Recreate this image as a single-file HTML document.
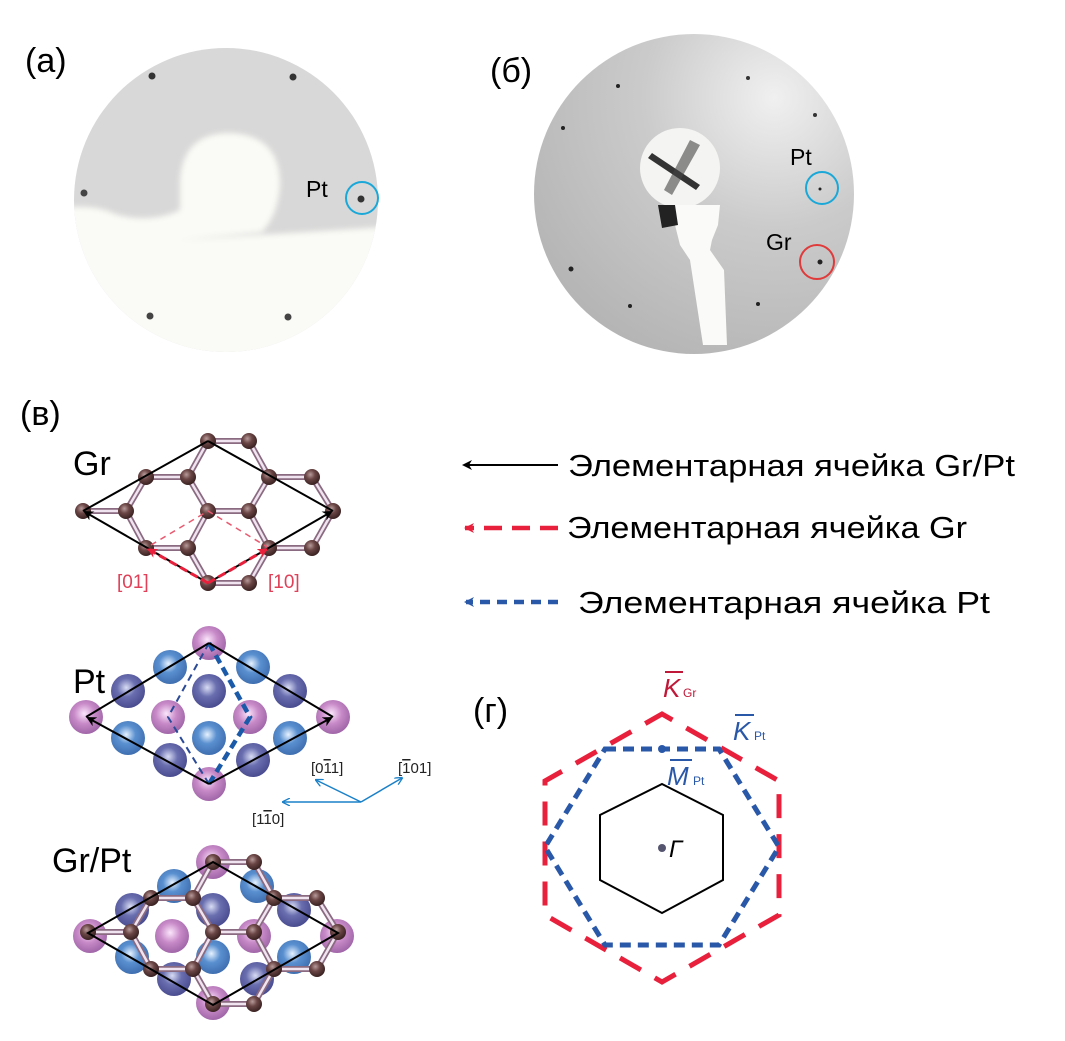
<!DOCTYPE html>
<html><head><meta charset="utf-8">
<style>
html,body{margin:0;padding:0;background:#fff;}
svg{display:block;font-family:"Liberation Sans",sans-serif;}
</style></head>
<body>
<svg id="s" width="1065" height="1041" viewBox="0 0 1065 1041" xmlns="http://www.w3.org/2000/svg">
<defs>
<radialGradient id="gC" cx="40%" cy="35%" r="65%"><stop offset="0" stop-color="#b89a9a"/><stop offset="0.45" stop-color="#6b4646"/><stop offset="1" stop-color="#3a2222"/></radialGradient>
<radialGradient id="gP" cx="45%" cy="40%" r="60%"><stop offset="0" stop-color="#fbe6fb"/><stop offset="0.5" stop-color="#c88ac8"/><stop offset="1" stop-color="#a066a8"/></radialGradient>
<radialGradient id="gB" cx="45%" cy="40%" r="60%"><stop offset="0" stop-color="#e6f2ff"/><stop offset="0.45" stop-color="#5a90d0"/><stop offset="1" stop-color="#3f6fb0"/></radialGradient>
<radialGradient id="gD" cx="45%" cy="40%" r="60%"><stop offset="0" stop-color="#d8dcf4"/><stop offset="0.45" stop-color="#6a6fb0"/><stop offset="1" stop-color="#4a4c90"/></radialGradient>
<radialGradient id="gBk" cx="75%" cy="20%" r="90%"><stop offset="0" stop-color="#f0f0f0"/><stop offset="0.45" stop-color="#cbcbcb"/><stop offset="1" stop-color="#b4b4b4"/></radialGradient>
<clipPath id="ca"><circle cx="226" cy="200" r="152"/></clipPath>
<filter id="bl"><feGaussianBlur stdDeviation="3"/></filter>
<marker id="ak" markerWidth="10" markerHeight="10" refX="8" refY="5" orient="auto" markerUnits="userSpaceOnUse"><path d="M0,0 L10,5 L0,10 L3,5z" fill="#000"/></marker>
<marker id="ar" markerWidth="12" markerHeight="10" refX="9" refY="5" orient="auto" markerUnits="userSpaceOnUse"><path d="M0,0 L10,5 L0,10 L3,5z" fill="#e8203c"/></marker>
<marker id="ab" markerWidth="10" markerHeight="10" refX="8" refY="5" orient="auto" markerUnits="userSpaceOnUse"><path d="M0,0 L10,5 L0,10 L3,5z" fill="#2a58a8"/></marker>
<marker id="al" markerWidth="8" markerHeight="8" refX="7" refY="4" orient="auto" markerUnits="userSpaceOnUse"><path d="M0,0 L8,4 L0,8" fill="none" stroke="#1a80c8" stroke-width="1.3"/></marker>
</defs>

<!-- (a) -->
<text x="25" y="72" font-size="34">(a)</text>
<g clip-path="url(#ca)">
<rect x="60" y="30" width="340" height="340" fill="#d8d8d8"/>
<g filter="url(#bl)" fill="#fafaf6">
<path d="M50,210 Q90,202 115,214 Q150,224 180,210 L180,240 L400,226 L400,380 L50,380 Z"/>
<path d="M180,240 L180,180 Q183,133 230,133 Q280,135 280,185 Q278,215 262,232 Z"/>
</g>
</g>
<circle cx="152" cy="76" r="3.5" fill="#333"/><circle cx="293" cy="77" r="3.5" fill="#333"/>
<circle cx="84" cy="193" r="3.5" fill="#444"/><circle cx="361" cy="199" r="3.5" fill="#333"/>
<circle cx="150" cy="316" r="3.5" fill="#444"/><circle cx="288" cy="317" r="3.5" fill="#444"/>
<text x="306" y="197" font-size="23">Pt</text>
<circle cx="362" cy="198" r="16" fill="none" stroke="#1aa8d8" stroke-width="2"/>

<!-- (б) -->
<text x="490" y="82" font-size="34">(б)</text>
<circle cx="694" cy="194" r="160" fill="url(#gBk)"/>
<circle cx="680" cy="168" r="40" fill="#f4f4f2"/>
<path d="M652,153 L700,185 L696,190 L648,158z" fill="#333"/>
<path d="M690,140 L700,145 L672,195 L664,190z" fill="#444" opacity="0.6"/>
<path d="M665,205 L720,205 L718,225 L712,240 L710,250 L724,270 L727,345 L703,345 L690,260 L680,245 L675,225z" fill="#fafaf8"/>
<path d="M658,205 L675,205 L678,225 L662,228z" fill="#222"/>
<circle cx="618" cy="86" r="2" fill="#222"/><circle cx="748" cy="78" r="2" fill="#333"/>
<circle cx="563" cy="128" r="2" fill="#222"/><circle cx="815" cy="115" r="2" fill="#333"/>
<circle cx="571" cy="269" r="2.5" fill="#222"/><circle cx="630" cy="306" r="2" fill="#222"/>
<circle cx="758" cy="304" r="2" fill="#222"/><circle cx="820" cy="262" r="2.5" fill="#222"/>
<circle cx="820" cy="189" r="1.5" fill="#222"/>
<text x="790" y="165" font-size="23">Pt</text>
<circle cx="822" cy="188" r="16" fill="none" stroke="#1aa8d8" stroke-width="2"/>
<text x="766" y="250" font-size="23">Gr</text>
<circle cx="817" cy="262" r="17" fill="none" stroke="#e03a3a" stroke-width="2"/>

<!-- (в) labels -->
<text x="20" y="425" font-size="34">(в)</text>
<text x="73" y="475" font-size="34">Gr</text>
<text x="73" y="693" font-size="34">Pt</text>
<text x="52" y="872" font-size="34">Gr/Pt</text>

<g id="pt1"></g>
<g id="gr1"></g>
<g id="pt2"></g>
<g id="gr2"></g>

<!-- Gr cell -->
<polygon points="208,583 146,548 208,511 269,548" fill="none" stroke="#e85a70" stroke-width="1.5" stroke-dasharray="6,5"/>
<path d="M208,441 L83,511 M208,441 L333,511" stroke="#000" stroke-width="2" fill="none"/>
<line x1="208" y1="583" x2="85" y2="512" stroke="#000" stroke-width="2" marker-end="url(#ak)"/>
<line x1="208" y1="583" x2="331" y2="512" stroke="#000" stroke-width="2" marker-end="url(#ak)"/>
<line x1="208" y1="583" x2="148" y2="549" stroke="#e8203c" stroke-width="3" stroke-dasharray="8,4" marker-end="url(#ar)"/>
<line x1="208" y1="583" x2="267" y2="549" stroke="#e8203c" stroke-width="3" stroke-dasharray="8,4" marker-end="url(#ar)"/>
<text x="117" y="588" font-size="19" fill="#e04058">[01]</text>
<text x="268" y="588" font-size="19" fill="#e04058">[10]</text>

<!-- Pt cell -->
<path d="M209,643 L168,717 L209,784" stroke="#2a4a98" stroke-width="2" stroke-dasharray="7,5" fill="none"/>
<path d="M209,643 L250,717 L209,784" stroke="#1a5aa8" stroke-width="4.5" stroke-dasharray="9,5" fill="none"/>
<path d="M209,643 L86,717 M209,643 L333,717" stroke="#000" stroke-width="2" fill="none"/>
<line x1="209" y1="784" x2="88" y2="718" stroke="#000" stroke-width="2" marker-end="url(#ak)"/>
<line x1="209" y1="784" x2="331" y2="718" stroke="#000" stroke-width="2" marker-end="url(#ak)"/>
<g stroke="#1a80c8" stroke-width="1.5">
<line x1="361" y1="802" x2="316" y2="780" marker-end="url(#al)"/>
<line x1="361" y1="802" x2="402" y2="778" marker-end="url(#al)"/>
<line x1="361" y1="802" x2="283" y2="802" marker-end="url(#al)"/>
</g>
<g font-size="15" fill="#222">
<text x="311" y="773">[0<tspan text-decoration="overline">1</tspan>1]</text>
<text x="398" y="773">[<tspan text-decoration="overline">1</tspan>01]</text>
<text x="252" y="824">[1<tspan text-decoration="overline">1</tspan>0]</text>
</g>

<!-- Gr/Pt cell -->
<polygon points="88,933 213,862 338,933 213,1005" fill="none" stroke="#000" stroke-width="2"/>

<!-- legend -->
<line x1="558" y1="465" x2="464" y2="465" stroke="#000" stroke-width="2" marker-end="url(#ak)"/>
<text x="568" y="476" font-size="31" textLength="447" lengthAdjust="spacingAndGlyphs">Элементарная ячейка Gr/Pt</text>
<line x1="558" y1="528" x2="465" y2="528" stroke="#e8203c" stroke-width="4.5" stroke-dasharray="18,10" marker-end="url(#ar)"/>
<text x="567" y="538" font-size="31" textLength="400" lengthAdjust="spacingAndGlyphs">Элементарная ячейка Gr</text>
<line x1="558" y1="602" x2="466" y2="602" stroke="#2a58a8" stroke-width="4.5" stroke-dasharray="10,7" marker-end="url(#ab)"/>
<text x="578" y="613" font-size="31" textLength="412" lengthAdjust="spacingAndGlyphs">Элементарная ячейка Pt</text>

<!-- (г) -->
<text x="473" y="722" font-size="34">(г)</text>
<polygon points="662,714 779,781 779,915 662,982 545,915 545,781" fill="none" stroke="#e8203c" stroke-width="5" stroke-dasharray="24,16" stroke-dashoffset="12"/>
<polygon points="605,749 719,749 779,847 719,945 605,945 545,847" fill="none" stroke="#2a58a8" stroke-width="5" stroke-dasharray="11,7"/>
<polygon points="662,784 723,815 723,880 662,913 600,880 600,815" fill="none" stroke="#000" stroke-width="2"/>
<circle cx="662" cy="749" r="4" fill="#2a58a8"/>
<circle cx="662" cy="848" r="4" fill="#555570"/>
<text x="669" y="857" font-size="24" font-style="italic">Γ</text>
<text x="663" y="697" font-size="26" font-style="italic" fill="#c01838">K</text>
<line x1="665" y1="672" x2="683" y2="672" stroke="#c01838" stroke-width="2"/>
<text x="683" y="697" font-size="12" fill="#c01838">Gr</text>
<text x="733" y="740" font-size="26" font-style="italic" fill="#2a58a8">K</text>
<line x1="735" y1="715" x2="754" y2="715" stroke="#2a58a8" stroke-width="2"/>
<text x="754" y="740" font-size="12" fill="#2a58a8">Pt</text>
<text x="667" y="785" font-size="26" font-style="italic" fill="#2a58a8">M</text>
<line x1="670" y1="760" x2="692" y2="760" stroke="#2a58a8" stroke-width="2"/>
<text x="693" y="785" font-size="12" fill="#2a58a8">Pt</text>
</svg>
<script>
var NS="http://www.w3.org/2000/svg";
function el(g,t,a){var e=document.createElementNS(NS,t);for(var k in a)e.setAttribute(k,a[k]);document.getElementById(g).appendChild(e);}
var gr=[[208,441],[249,441],[146,477],[188,477],[269,477],[312,477],[83,511],[126,511],[208,511],[249,511],[333,511],[146,548],[188,548],[269,548],[312,548],[208,583],[249,583]];
function graphene(g,dx,dy){
  var p=gr.map(function(a){return [a[0]+dx,a[1]+dy];});
  for(var i=0;i<p.length;i++)for(var j=i+1;j<p.length;j++){
    var d=Math.hypot(p[i][0]-p[j][0],p[i][1]-p[j][1]);
    if(d<46){
      el(g,"line",{x1:p[i][0],y1:p[i][1],x2:p[j][0],y2:p[j][1],stroke:"#8a6a80","stroke-width":6});
      el(g,"line",{x1:p[i][0],y1:p[i][1],x2:p[j][0],y2:p[j][1],stroke:"#f0e4f0","stroke-width":2.5});
    }}
  p.forEach(function(a){el(g,"circle",{cx:a[0],cy:a[1],r:8,fill:"url(#gC)"});});
}
var pt=[["P",209,643],["P",86,717],["P",333,717],["P",209,784],["P",168,717],["P",250,717],
["B",170,667],["B",253,667],["D",128,691],["D",209,691],["D",290,691],
["B",128,738],["B",209,738],["B",290,738],["D",170,760],["D",253,760]];
function platinum(g,dx,dy){
  pt.forEach(function(a){el(g,"circle",{cx:a[1]+dx,cy:a[2]+dy,r:17,fill:"url(#g"+a[0]+")"});});
}
platinum("pt1",0,0);
graphene("gr1",0,0);
platinum("pt2",4,219);
graphene("gr2",5,421);
</script>
</body></html>
